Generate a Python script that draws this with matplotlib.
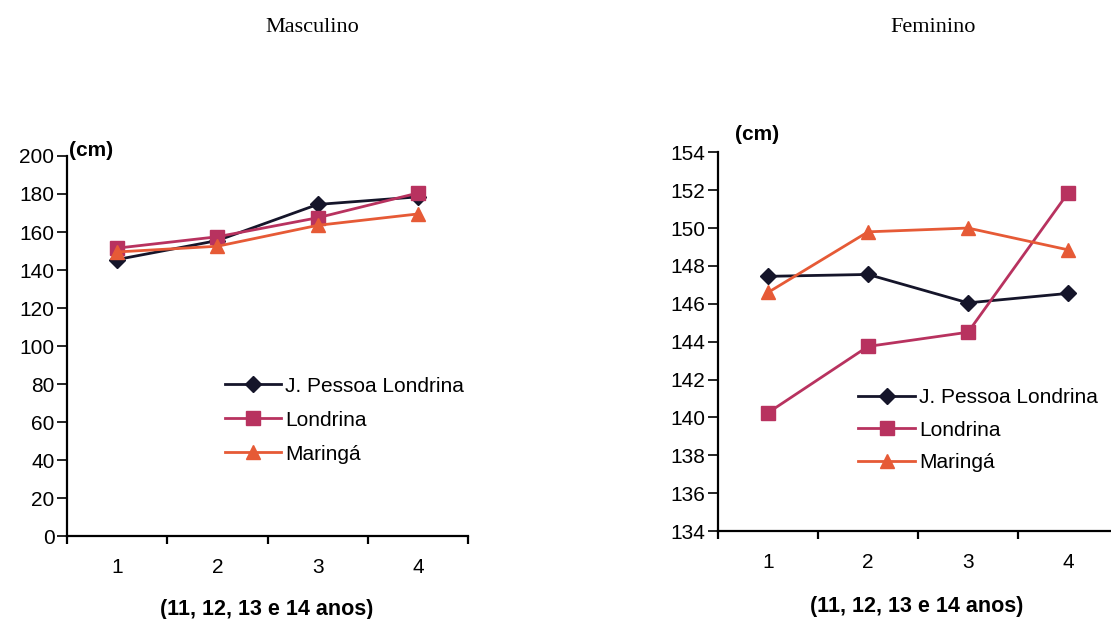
import matplotlib
matplotlib.use("Agg")
import matplotlib.pyplot as plt

categories = [1, 2, 3, 4]
series_names = ["J. Pessoa Londrina", "Londrina", "Maringá"]
masc_pessoa = [145.5, 155.5, 174.5, 178.5]
masc_londrina = [151.5, 157.5, 167.5, 180.5]
masc_maringa = [149.5, 152.5, 163.5, 169.5]
fem_pessoa = [147.45, 147.55, 146.05, 146.55]
fem_londrina = [140.25, 143.75, 144.5, 151.85]
fem_maringa = [146.6, 149.8, 150.0, 148.85]
masc_yticks = list(range(0, 201, 20))
fem_yticks = list(range(134, 155, 2))

plt.rcParams['font.family'] = ['Liberation Sans', 'DejaVu Sans']

colors = ['#15152a', '#b8325f', '#e65a36']
markers = ['D', 's', '^']
msizes = [8, 9.5, 10]
FS = 15

fig = plt.figure(figsize=(11.11, 6.19), dpi=100)
axL = fig.add_axes([0.0603, 0.134, 0.361, 0.614])
axR = fig.add_axes([0.6463, 0.142, 0.36, 0.612])

def style(ax, yticks, ylim):
    for s in ['top', 'right']:
        ax.spines[s].set_visible(False)
    for s in ['left', 'bottom']:
        ax.spines[s].set_linewidth(1.6)
        ax.spines[s].set_color('black')
    ax.set_xlim(0.5, 4.5)
    ax.set_ylim(*ylim)
    ax.set_yticks(yticks)
    ax.set_xticks([0.5, 1.5, 2.5, 3.5, 4.5])
    ax.set_xticklabels([])
    ax.set_xticks(categories, minor=True)
    ax.set_xticklabels([str(c) for c in categories], minor=True)
    ax.tick_params(axis='x', which='minor', length=0, pad=16, labelsize=FS)
    ax.tick_params(axis='x', which='major', direction='out', length=6, width=1.6)
    ax.tick_params(axis='y', direction='out', length=7, width=1.2, labelsize=FS, pad=2)

def draw(ax, data):
    for vals, name, c, m, ms in zip(data, series_names, colors, markers, msizes):
        ax.plot(categories, vals, color=c, marker=m, markersize=ms, linewidth=2.0,
                label=name, clip_on=False, zorder=3)

draw(axL, [masc_pessoa, masc_londrina, masc_maringa])
style(axL, masc_yticks, (0, 200))
draw(axR, [fem_pessoa, fem_londrina, fem_maringa])
style(axR, fem_yticks, (134, 154))

axL.legend(loc='upper left', bbox_to_anchor=(0.367, 0.447), frameon=False, fontsize=FS,
           handlelength=2.7, handletextpad=0.2, labelspacing=0.72, borderpad=0)
axR.legend(loc='upper left', bbox_to_anchor=(0.325, 0.405), frameon=False, fontsize=FS,
           handlelength=2.7, handletextpad=0.2, labelspacing=0.65, borderpad=0)

fig.text(0.082, 0.757, "(cm)", fontsize=15, fontweight='bold', ha='center', va='center')
fig.text(0.681, 0.782, "(cm)", fontsize=15, fontweight='bold', ha='center', va='center')
fig.text(0.240, 0.016, "(11, 12, 13 e 14 anos)", fontsize=15.5, fontweight='bold', ha='center', va='center')
fig.text(0.825, 0.021, "(11, 12, 13 e 14 anos)", fontsize=15.5, fontweight='bold', ha='center', va='center')
fig.text(0.281, 0.956, "Masculino", fontsize=16, family='Liberation Serif', ha='center', va='center')
fig.text(0.840, 0.956, "Feminino", fontsize=16, family='Liberation Serif', ha='center', va='center')

fig.savefig("out.png", dpi=100)
